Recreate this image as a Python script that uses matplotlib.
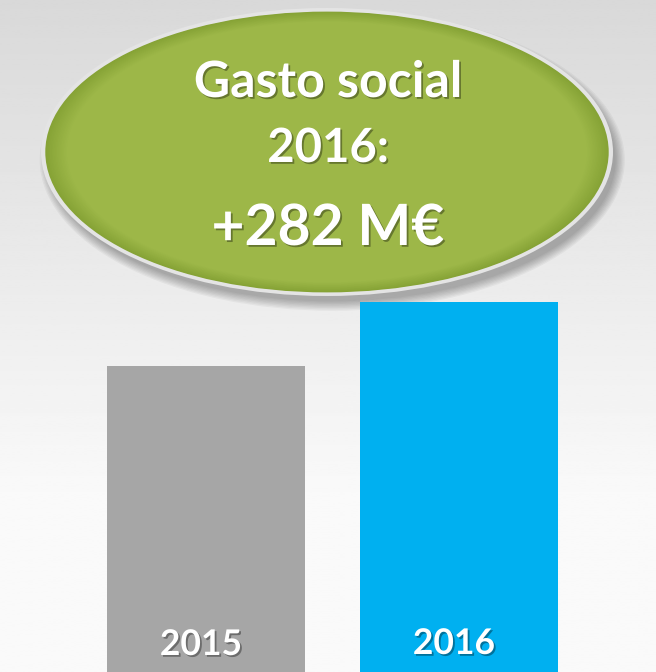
import numpy as np
import matplotlib
matplotlib.use("Agg")
import matplotlib.pyplot as plt
from matplotlib.patches import Ellipse
import matplotlib.patheffects as pe

years = ["2015", "2016"]
gasto = [1348, 1630]          # M€, 2016 - 2015 = 282
colores = ["#a6a6a6", "#00b0f0"]
titulo = ["Gasto social", "2016:", "+282 M€"]

plt.rcParams['font.family'] = ['Lato', 'DejaVu Sans']

fig = plt.figure(figsize=(6.56, 6.72), dpi=100)

# fondo degradado
bg = fig.add_axes([0, 0, 1, 1])
bg.axis('off')
grad = np.linspace(0, 1, 256).reshape(-1, 1)
grad = np.clip(grad / 0.75, 0, 1)
bg.imshow(0.85 + 0.13 * grad, cmap='gray', vmin=0, vmax=1, aspect='auto',
          extent=[0, 1, 0, 1], origin='upper')
bg.set_xlim(0, 1)
bg.set_ylim(0, 1)

ax = fig.add_axes([0, 0, 1, 1])
ax.patch.set_alpha(0)
x = np.arange(len(years))
ax.bar(x, gasto, width=0.783, color=colores)
ax.set_xlim(-0.814, 1.779)
ax.set_ylim(0, 2960)
ax.axis('off')

sombra = [pe.SimplePatchShadow(offset=(1.3, -1.3), shadow_rgbFace='k', alpha=0.35), pe.Normal()]
px = 2960 / 672
for xi, y, base in zip(x, years, [17, 18]):
    ax.text(xi - 0.02, base * px, y, ha='center', va='baseline',
            color='white', fontsize=25.5, fontweight='bold', path_effects=sombra)

# elipse
cx, cy = 327 / 656, 1 - 152 / 672
w, h = 572 / 656, 288 / 672
for i in range(8):
    bg.add_patch(Ellipse((cx + 0.008, cy - 0.012), w + 0.02 - i * 0.004, h + 0.02 - i * 0.004,
                         color='k', alpha=0.04, lw=0, zorder=3))
bg.add_patch(Ellipse((cx, cy), w, h, color='#e4e4e4', lw=0, zorder=4))
n = 25
c_out = np.array([0x86, 0xa3, 0x36]) / 255
c_in = np.array([0x9d, 0xb7, 0x48]) / 255
for i in range(n):
    t = i / (n - 1)
    s = 1 - 0.015 - 0.12 * t
    col = c_out + (c_in - c_out) * min(1, t * 1.6)
    bg.add_patch(Ellipse((cx, cy), w * s, h * (s - 0.01 * (1 - t)), color=col, lw=0, zorder=5))

for txt, base, fs in zip(titulo, [97, 162, 245], [36, 34, 41]):
    fig.text(0.5, 1 - base / 672, txt, ha='center', va='baseline', color='white',
             fontsize=fs, fontweight='bold', path_effects=sombra, zorder=10)

fig.savefig("out.png", dpi=100)
